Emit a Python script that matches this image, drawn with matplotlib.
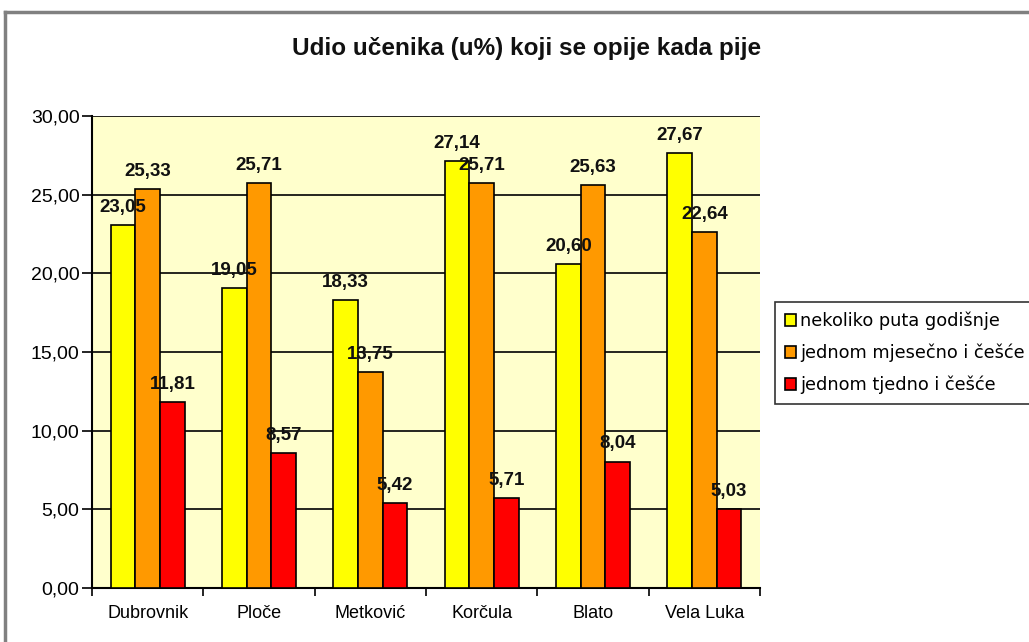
import matplotlib
matplotlib.use("Agg")
import matplotlib.pyplot as plt
import numpy as np
from matplotlib.lines import Line2D

plt.rcParams['font.family'] = ['Liberation Sans', 'DejaVu Sans']

categories = ["Dubrovnik", "Ploče", "Metković", "Korčula", "Blato", "Vela Luka"]
series_names = ["nekoliko puta godišnje", "jednom mjesečno i češće", "jednom tjedno i češće"]
godisnje = [23.05, 19.05, 18.33, 27.14, 20.60, 27.67]
mjesecno = [25.33, 25.71, 13.75, 25.71, 25.63, 22.64]
tjedno = [11.81, 8.57, 5.42, 5.71, 8.04, 5.03]
yticks = [0, 5, 10, 15, 20, 25, 30]
title = "Udio učenika (u%) koji se opije kada pije"

colors = ["#FFFF00", "#FF9900", "#FF0000"]

W, H = 1029, 642
fig = plt.figure(figsize=(W / 100, H / 100), dpi=100)
fig.patch.set_facecolor("white")

ax = fig.add_axes([92 / W, 1 - 588 / H, (760 - 92) / W, (588 - 116) / H])
ax.set_facecolor("#FFFFCC")

x = np.arange(len(categories))
bw = 1 / 4.5
data = [godisnje, mjesecno, tjedno]
for i, (vals, c, name) in enumerate(zip(data, colors, series_names)):
    pos = x + (i - 1) * bw
    bars = ax.bar(pos, vals, width=bw, color=c, edgecolor="black", linewidth=1.2,
                  label=name, zorder=3)
    for b, v in zip(bars, vals):
        ax.annotate(f"{v:.2f}".replace(".", ","),
                    (b.get_x() + b.get_width() / 2, v),
                    xytext=(0, 6.5), textcoords="offset points",
                    ha="center", va="bottom", fontsize=13.5, fontweight="bold",
                    color="#111111", zorder=5)

ax.set_xlim(-0.5, len(categories) - 0.5)
ax.set_ylim(0, 30)
ax.set_yticks(yticks)
ax.set_yticklabels([f"{t:.2f}".replace(".", ",") for t in yticks], fontsize=14)
ax.yaxis.grid(True, color="black", linewidth=1.2, zorder=1)
ax.set_axisbelow(True)

ax.set_xticks(x)
ax.set_xticklabels(categories, fontsize=13)
ax.tick_params(axis="x", length=0, pad=12)
ax.set_xticks(np.arange(len(categories) + 1) - 0.5, minor=True)
ax.tick_params(axis="x", which="minor", length=6, direction="out", width=1.2)
ax.tick_params(axis="y", length=7, direction="out", width=1.2, pad=2)

for s in ["top", "right"]:
    ax.spines[s].set_visible(False)
ax.spines["left"].set_linewidth(1.5)
ax.spines["bottom"].set_linewidth(1.5)

fig.text(527 / W, 1 - 48 / H, title, ha="center", va="center", fontsize=17.5,
         fontweight="bold", color="#111111")

leg = fig.legend(loc="upper left", bbox_to_anchor=(775 / W, 1 - 302 / H),
                 prop={"family": "DejaVu Sans", "size": 12.8},
                 frameon=True, fancybox=False, edgecolor="black",
                 handlelength=0.65, handleheight=0.65, handletextpad=0.2,
                 borderpad=0.55, labelspacing=0.75, borderaxespad=0)
leg.get_frame().set_linewidth(1.2)

# outer chart frame
fig.add_artist(Line2D([5 / W, 5 / W], [0, 1 - 12 / H], transform=fig.transFigure,
                      color="#808080", linewidth=2.5))
fig.add_artist(Line2D([5 / W, 1], [1 - 12 / H, 1 - 12 / H], transform=fig.transFigure,
                      color="#808080", linewidth=2.5))

fig.savefig("out.png", dpi=100)
